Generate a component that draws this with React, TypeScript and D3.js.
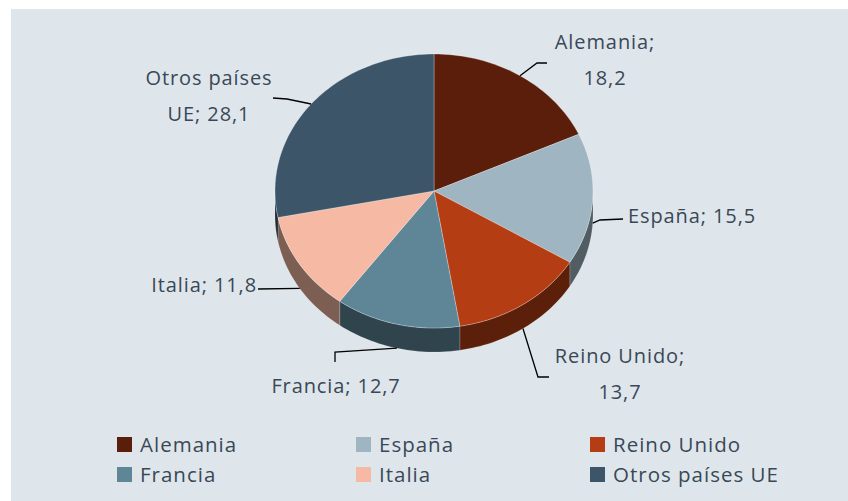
import React from "react";
import * as d3 from "d3";

const categories = ["Alemania", "España", "Reino Unido", "Francia", "Italia", "Otros países UE"];
const values = [18.2, 15.5, 13.7, 12.7, 11.8, 28.1];
const valueLabels = ["18,2", "15,5", "13,7", "12,7", "11,8", "28,1"];
const colors = ["#5b1e0b", "#9fb6c2", "#b53d13", "#5e8697", "#f5b9a4", "#3d5569"];

const W = 848;
const H = 501;
const cx = 434;
const cy = 191;
const rx = 159;
const ry = 137;
const depth = 24;
const textColor = "#3a4855";
const fontFamily = "'Open Sans', sans-serif";

// annotation layout (text position, elbow points, wrap)
const labelLayout = [
  { split: 1, anchor: "middle", tx: 605, ty: 49, elbow: [[537, 63], [547, 63]] },
  { split: 0, anchor: "start", tx: 628, ty: 223, elbow: [[600, 220], [623, 219]] },
  { split: 2, anchor: "middle", tx: 620, ty: 363, elbow: [[538, 377], [549, 377]] },
  { split: 0, anchor: "middle", tx: 336, ty: 393, elbow: [[335, 352], [335, 362]] },
  { split: 0, anchor: "end", tx: 257, ty: 292, elbow: [[258, 289]] },
  { split: 2, anchor: "middle", tx: 209, ty: 85, elbow: [[287, 99], [273, 98]] },
];
const legendCols = [117, 356, 590];
const legendRows = [437, 467];

const pt = (a: number, dy = 0): [number, number] => [cx + rx * Math.sin(a), cy - ry * Math.cos(a) + dy];

export default function App() {
  const pie = d3.pie<number>().sort(null).startAngle(0).endAngle(2 * Math.PI);
  const arcs = pie(values);
  const line = d3.line();

  const samples = (a0: number, a1: number, dy = 0) => {
    const n = Math.max(2, Math.ceil(((a1 - a0) / (2 * Math.PI)) * 240));
    return d3.range(n + 1).map((i) => pt(a0 + ((a1 - a0) * i) / n, dy));
  };

  const sides = arcs
    .map((a, i) => {
      const s = Math.max(a.startAngle, Math.PI / 2);
      const e = Math.min(a.endAngle, (3 * Math.PI) / 2);
      if (s >= e) return null;
      const top = samples(s, e);
      const bot = samples(s, e, depth).reverse();
      return { i, d: line([...top, ...bot]) + "Z" };
    })
    .filter(Boolean) as { i: number; d: string }[];

  const tops = arcs.map((a, i) => ({
    i,
    d: line([[cx, cy], ...samples(a.startAngle, a.endAngle)]) + "Z",
  }));

  const labels = arcs.map((a, i) => {
    const mid = (a.startAngle + a.endAngle) / 2;
    const front = Math.cos(mid) < 0;
    const p = pt(mid, front ? depth : 0);
    const lay = labelLayout[i];
    const full = `${categories[i]}; ${valueLabels[i]}`;
    const words = full.split(" ");
    const lines = lay.split > 0 ? [words.slice(0, lay.split).join(" "), words.slice(lay.split).join(" ")] : [full];
    return { i, p, lay, lines };
  });

  return (
    <svg width={W} height={H} style={{ position: "absolute", left: 0, top: 0 }} fontFamily={fontFamily}>
      <rect x={0} y={0} width={W} height={H} fill="#ffffff" />
      <rect x={11} y={9} width={W - 11} height={H - 9} fill="#dee6ec" />
      <g>
        {sides.map((s) => (
          <path
            key={"s" + s.i}
            d={s.d}
            fill={d3.color(colors[s.i])!.darker(1.9).formatHex()}
            stroke="rgba(255,255,255,0.25)"
            strokeWidth={0.6}
          />
        ))}
        {tops.map((t) => (
          <path key={"t" + t.i} d={t.d} fill={colors[t.i]} stroke="rgba(255,255,255,0.35)" strokeWidth={0.8} />
        ))}
      </g>
      <g>
        {labels.map((l) => (
          <g key={"l" + l.i}>
            <path d={line([l.p, ...(l.lay.elbow as [number, number][])])!} fill="none" stroke="#000" strokeWidth={1.3} />
            {l.lines.map((txt, k) => (
              <text
                key={k}
                x={l.lay.tx}
                y={l.lay.ty + k * 36}
                textAnchor={l.lay.anchor}
                fontSize={20}
                letterSpacing={0.9}
                fill={textColor}
              >
                {txt}
              </text>
            ))}
          </g>
        ))}
      </g>
      <g>
        {categories.map((c, i) => {
          const x = legendCols[i % 3];
          const y = legendRows[Math.floor(i / 3)];
          return (
            <g key={"lg" + i}>
              <rect x={x} y={y} width={15} height={15} fill={colors[i]} />
              <text x={x + 23} y={y + 15} fontSize={20.5} letterSpacing={1} fill={textColor}>
                {c}
              </text>
            </g>
          );
        })}
      </g>
    </svg>
  );
}
